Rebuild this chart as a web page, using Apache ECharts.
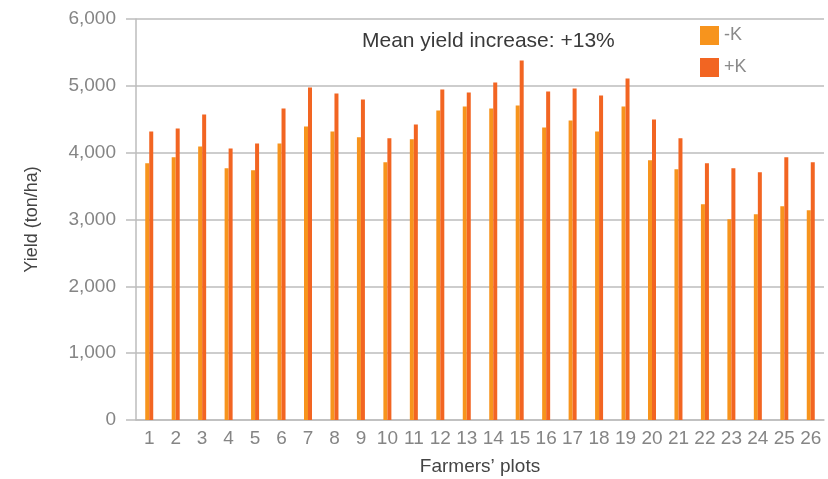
<!DOCTYPE html>
<html><head><meta charset="utf-8">
<script src="https://cdn.jsdelivr.net/npm/echarts@6/dist/echarts.min.js"></script>
<style>html,body{margin:0;padding:0;background:#fff}#c{width:828px;height:479px}</style>
</head><body><div id="c"></div>
<script>
const categories = ['1','2','3','4','5','6','7','8','9','10','11','12','13','14','15','16','17','18','19','20','21','22','23','24','25','26'];
const minusK = [3840,3930,4094,3765,3736,4139,4393,4318,4229,3855,4199,4632,4691,4661,4706,4378,4483,4318,4691,3885,3751,3230,3004,3079,3198,3138];
const plusK  = [4318,4363,4572,4064,4139,4661,4975,4885,4796,4214,4423,4945,4900,5050,5378,4915,4960,4855,5109,4497,4214,3840,3765,3706,3930,3855];
const yTicks = [0,1000,2000,3000,4000,5000,6000];
const titleText = 'Mean yield increase: +13%';

const font = 'Liberation Sans, Arial, sans-serif';
const chart = echarts.init(document.getElementById('c'), null, {renderer:'canvas'});
chart.setOption({
  animation:false,
  textStyle:{fontFamily:font},
  title:{text:titleText, left:357, top:26, textStyle:{fontSize:21, fontWeight:'normal', color:'#3a3a3a', fontFamily:font}},
  legend:{
    data:['-K','+K'], orient:'vertical', left:695, top:21, itemWidth:19, itemHeight:19, itemGap:13,
    textStyle:{fontSize:18, color:'#8a8a8a', fontFamily:font},
    icon:'rect'
  },
  grid:{left:136, right:4, top:19, bottom:59, containLabel:false, outerBoundsMode:'none'},
  xAxis:{
    type:'category', data:categories,
    name:'Farmers\u2019 plots', nameLocation:'middle', nameGap:37,
    nameTextStyle:{fontSize:19, color:'#444', fontFamily:font},
    axisLine:{lineStyle:{color:'#bdbdbd', width:1.5}},
    axisTick:{show:false},
    axisLabel:{fontSize:19, color:'#858585', margin:9, interval:0, fontFamily:font}
  },
  yAxis:{
    type:'value', min:0, max:6000, interval:1000,
    name:'Yield (ton/ha)', nameLocation:'middle', nameGap:95,
    nameTextStyle:{fontSize:18, color:'#444', fontFamily:font},
    axisLine:{show:true, lineStyle:{color:'#bdbdbd', width:1.5}},
    axisTick:{show:true, length:10, lineStyle:{color:'#bdbdbd', width:1.5}},
    splitLine:{lineStyle:{color:'#bdbdbd', width:1.5}},
    axisLabel:{fontSize:19, color:'#858585', margin:20, fontFamily:font,
      formatter:v=> yTicks.includes(v) ? v.toLocaleString('en-US') : ''}
  },
  series:[
    {name:'-K', type:'bar', data:minusK, barWidth:4, barGap:'0%', itemStyle:{color:'#F7941D'}},
    {name:'+K', type:'bar', data:plusK, barWidth:4, itemStyle:{color:'#F26522'}}
  ]
});
</script></body></html>
